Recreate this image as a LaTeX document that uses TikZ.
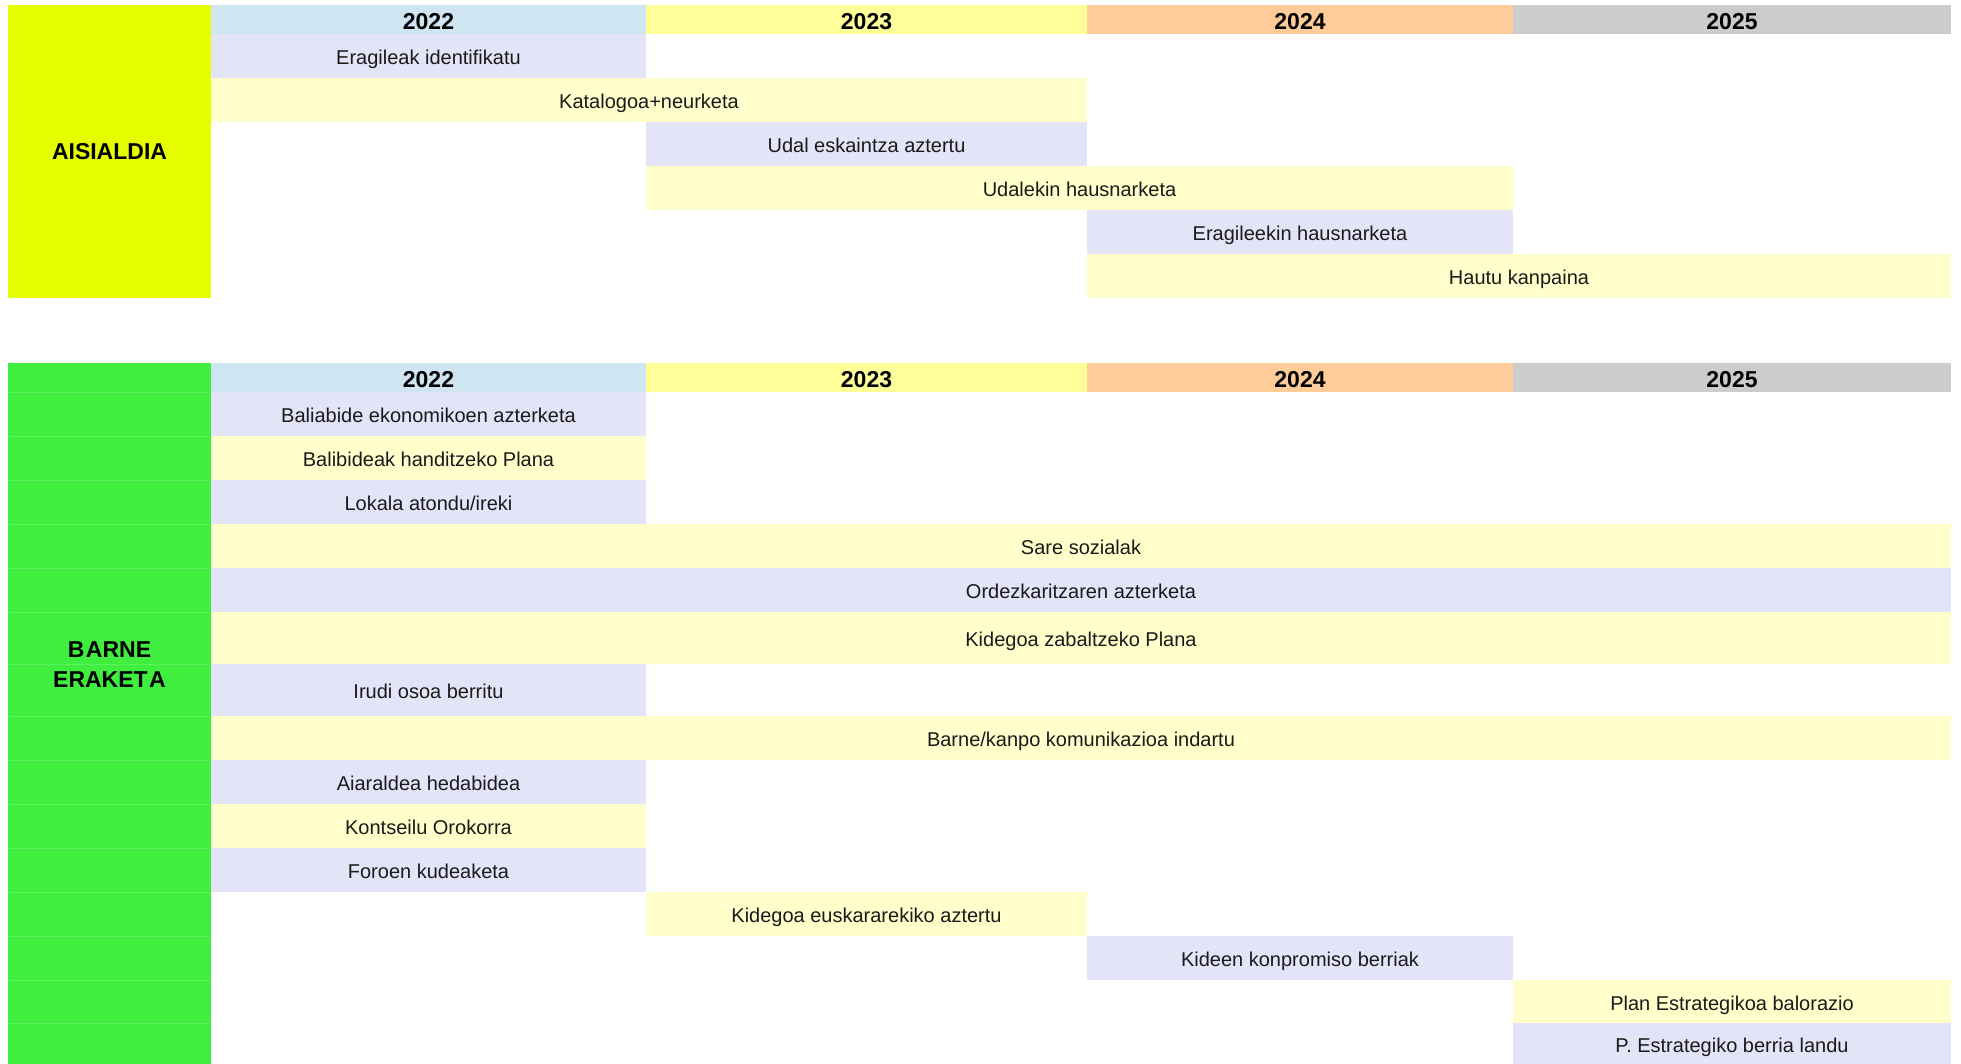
\documentclass[tikz,border=0pt]{standalone}
\usepackage{fontspec}
\setmainfont{Liberation Sans}
\definecolor{lime}{HTML}{E6FF00}
\definecolor{grn}{HTML}{3FEE3F}
\definecolor{grnline}{HTML}{5CF25C}
\definecolor{hblue}{HTML}{CFE5F2}
\definecolor{hyel}{HTML}{FFFF99}
\definecolor{horange}{HTML}{FFCC99}
\definecolor{hgray}{HTML}{CCCCCC}
\definecolor{lav}{HTML}{E4E4F9}
\definecolor{pyel}{HTML}{FFFFCC}
\definecolor{txt}{HTML}{1A1A1A}
\tikzset{
  gbase/.style={inner sep=0pt, outer sep=0pt, draw=none, align=center},
  gbar/.style={gbase, text=txt, text height=17pt, text depth=0pt,
    font=\fontsize{20}{24}\selectfont},
  ghead/.style={gbase, text=black, text height=19pt, text depth=0pt,
    font=\fontsize{23}{27}\selectfont\bfseries},
  gside/.style={gbase, text=black, font=\fontsize{23}{30}\selectfont\bfseries},
}
\newcommand{\gbar}[8]{%
  \pgfmathsetmacro\gw{#4-#2}\pgfmathsetmacro\gh{#5-#3}%
  \pgfmathsetmacro\gx{(#2+#4)/2}\pgfmathsetmacro\gy{(#3+#5)/2}%
  \node[#8, fill=#6, minimum width=\gw pt, minimum height=\gh pt] (#1) at (\gx,\gy) {#7};}
\begin{document}
\begin{tikzpicture}[x=1pt,y=-1pt]
\useasboundingbox[fill=white] (0,0) rectangle (1961,1064);
% ---------- AISIALDIA ----------
\gbar{ais}{8}{5}{211}{298}{lime}{AISIALDIA}{gside}
\gbar{ha22}{211}{5}{646}{34.5}{hblue}{2022}{ghead}
\gbar{ha23}{646}{5}{1087}{34.5}{hyel}{2023}{ghead}
\gbar{ha24}{1087}{5}{1513}{34.5}{horange}{2024}{ghead}
\gbar{ha25}{1513}{5}{1951}{34.5}{hgray}{2025}{ghead}
\gbar{a1}{211}{34.5}{646}{78.5}{lav}{Eragileak identifikatu}{gbar}
\gbar{a2}{211}{78.5}{1087}{122.3}{pyel}{Katalogoa+neurketa}{gbar}
\gbar{a3}{646}{122.3}{1087}{166.2}{lav}{Udal eskaintza aztertu}{gbar}
\gbar{a4}{646}{166.2}{1513}{210.1}{pyel}{Udalekin hausnarketa}{gbar}
\gbar{a5}{1087}{210.1}{1513}{254}{lav}{Eragileekin hausnarketa}{gbar}
\gbar{a6}{1087}{254}{1951}{298}{pyel}{Hautu kanpaina}{gbar}
% ---------- BARNE ERAKETA ----------
\gbar{barne}{8}{363}{211}{1064}{grn}{}{gside}
\foreach \yy in {392,436,480,524,568,612,664,716,760,804,848,892,936,980,1023}
  \draw[grnline, line width=1pt] (9,\yy) -- (210,\yy);
\node[gside] (barnetxt) at (109.5,665) {B\kern1.5pt ARNE\\ERAKET\kern1.5pt A};
\gbar{hb22}{211}{363}{646}{392}{hblue}{2022}{ghead}
\gbar{hb23}{646}{363}{1087}{392}{hyel}{2023}{ghead}
\gbar{hb24}{1087}{363}{1513}{392}{horange}{2024}{ghead}
\gbar{hb25}{1513}{363}{1951}{392}{hgray}{2025}{ghead}
\gbar{b1}{211}{392}{646}{436}{lav}{Baliabide ekonomikoen azterketa}{gbar}
\gbar{b2}{211}{436}{646}{480}{pyel}{Balibideak handitzeko Plana}{gbar}
\gbar{b3}{211}{480}{646}{524}{lav}{Lokala atondu/ireki}{gbar}
\gbar{b4}{211}{524}{1951}{568}{pyel}{Sare sozialak}{gbar}
\gbar{b5}{211}{568}{1951}{612}{lav}{Ordezkaritzaren azterketa}{gbar}
\gbar{b6}{211}{612}{1951}{664}{pyel}{Kidegoa zabaltzeko Plana}{gbar}
\gbar{b7}{211}{664}{646}{716}{lav}{Irudi osoa berritu}{gbar}
\gbar{b8}{211}{716}{1951}{760}{pyel}{Barne/kanpo komunikazioa indartu}{gbar}
\gbar{b9}{211}{760}{646}{804}{lav}{Aiaraldea hedabidea}{gbar}
\gbar{b10}{211}{804}{646}{848}{pyel}{Kontseilu Orokorra}{gbar}
\gbar{b11}{211}{848}{646}{892}{lav}{Foroen kudeaketa}{gbar}
\gbar{b12}{646}{892}{1087}{936}{pyel}{Kidegoa euskararekiko aztertu}{gbar}
\gbar{b13}{1087}{936}{1513}{980}{lav}{Kideen konpromiso berriak}{gbar}
\gbar{b14}{1513}{980}{1951}{1023}{pyel}{Plan Estrategikoa balorazio}{gbar}
\gbar{b15}{1513}{1023}{1951}{1064}{lav}{P. Estrategiko berria landu}{gbar}
\end{tikzpicture}
\end{document}
